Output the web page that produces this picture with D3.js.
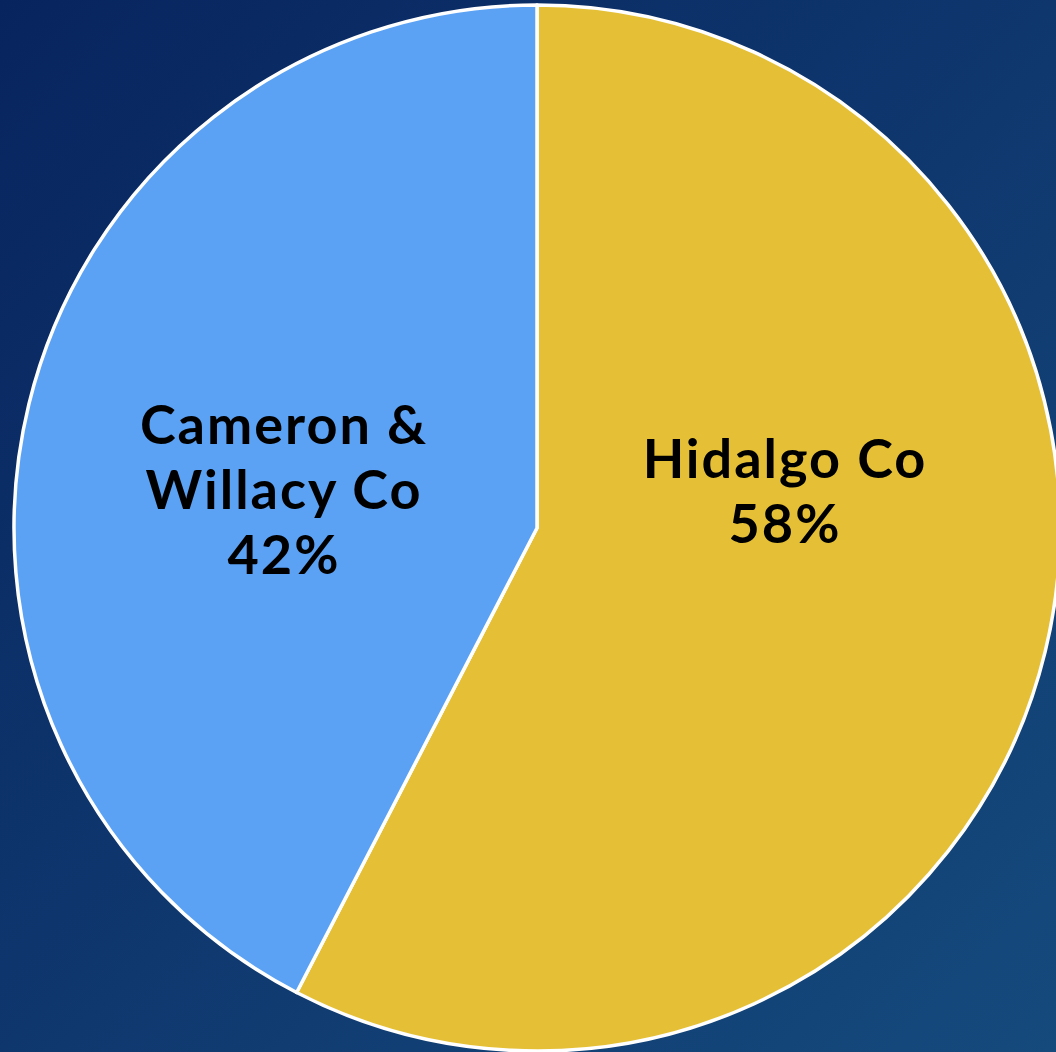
<!DOCTYPE html>
<html>
<head>
<meta charset="utf-8">
<script src="https://cdn.jsdelivr.net/npm/d3@7"></script>
<style>
  html, body { margin: 0; padding: 0; }
  body { width: 1056px; height: 1052px; overflow: hidden; }
  text { font-family: "Lato", "DejaVu Sans", sans-serif; font-weight: 700; fill: #000; }
</style>
</head>
<body>
<div id="container"></div>
<script>
// data
var regions = ["Hidalgo Co", "Cameron & Willacy Co"];
var shares = [57.6, 42.4];
var colors = ["#e5c036", "#5ba2f5"];
// label lines, one list per slice (last line is the percent)
var labelLines = [["Hidalgo Co"], ["Cameron &", "Willacy Co"]];

var width = 1056, height = 1052;
var cx = 537, cy = 528, radius = 523;

var svg = d3.select("#container").append("svg")
  .attr("width", width)
  .attr("height", height);

// background gradient
var grad = svg.append("defs").append("linearGradient")
  .attr("id", "bg")
  .attr("x1", "0%").attr("y1", "0%")
  .attr("x2", "100%").attr("y2", "100%");
grad.append("stop").attr("offset", "0%").attr("stop-color", "#08245f");
grad.append("stop").attr("offset", "100%").attr("stop-color", "#154a7d");

svg.append("rect")
  .attr("width", width)
  .attr("height", height)
  .attr("fill", "url(#bg)");

var data = regions.map(function(r, i) {
  return {
    region: r,
    value: shares[i],
    color: colors[i],
    lines: labelLines[i].concat([Math.round(shares[i]) + "%"])
  };
});

var pie = d3.pie()
  .sort(null)
  .value(function(d) { return d.value; });

var arc = d3.arc()
  .innerRadius(0)
  .outerRadius(radius);

var g = svg.append("g")
  .attr("transform", "translate(" + cx + "," + cy + ")");

g.selectAll(".slice")
  .data(pie(data))
  .enter()
  .append("path")
    .attr("class", "slice")
    .attr("d", arc)
    .attr("fill", function(d) { return d.data.color; })
    .attr("stroke", "#ffffff")
    .attr("stroke-width", 3.5)
    .attr("stroke-linejoin", "round");

// label placement (offsets from the pie centre, roughly where the original sits)
var labelPos = [[248, -50], [-253, -84]];
var lineH = 65;

var labels = g.selectAll(".label")
  .data(pie(data))
  .enter()
  .append("text")
    .attr("class", "label")
    .attr("text-anchor", "middle")
    .style("font-size", "54px")
    .style("letter-spacing", "2px")
    .attr("transform", function(d, i) {
      return "translate(" + labelPos[i][0] + "," + labelPos[i][1] + ")";
    });

labels.selectAll("tspan")
  .data(function(d) { return d.data.lines; })
  .enter()
  .append("tspan")
    .attr("x", 0)
    .attr("y", function(d, i) { return i * lineH; })
    .text(function(d) { return d; });
</script>
</body>
</html>
